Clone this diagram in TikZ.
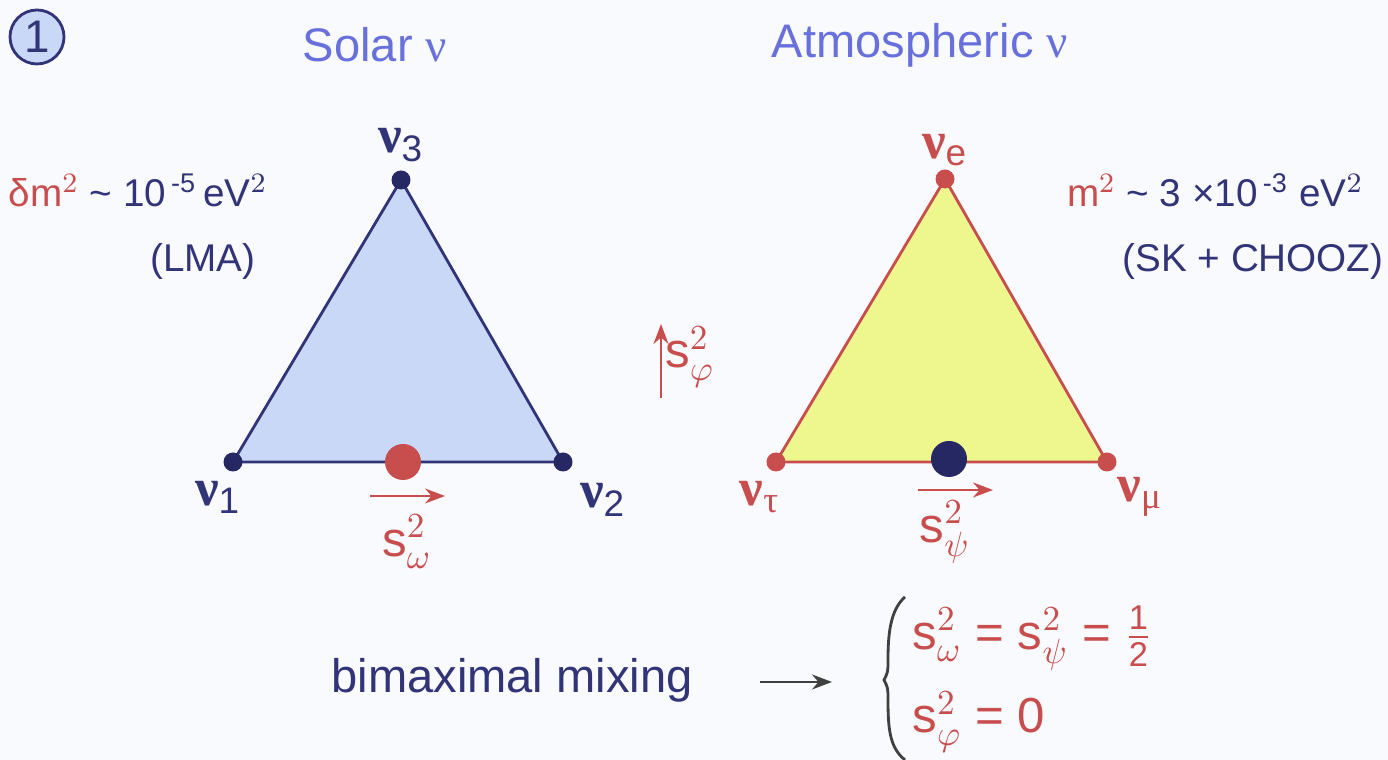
\documentclass[tikz,border=0pt]{standalone}
\usepackage{fontspec}
\usepackage{amsmath}
\setmainfont{Liberation Sans}
\newfontfamily\grk{Liberation Serif}
\usetikzlibrary{arrows.meta}
\tikzset{>=latex}

\newcommand{\nuof}[1]{{\grk\bfseries ν}\textsubscript{#1}}
\newcommand{\sq}[1]{$\mathrm{s}^{2}_{#1}$}

\begin{document}
\begin{tikzpicture}[>=Stealth,
    vtx/.style={circle, inner sep=0pt, minimum size=0.19cm},
    bigdot/.style={circle, inner sep=0pt, minimum size=0.36cm},
    nulabel/.style={font=\fontsize{15}{17}\selectfont},
    title/.style={font=\fontsize{13.4}{16}\selectfont, text=titleColor},
    note/.style={font=\fontsize{11}{13}\selectfont, text=navyColor},
    slabel/.style={font=\fontsize{14}{16}\selectfont, text=redColor},
]

% ---------------------------------------------------------------------------
% Color aliases
% ---------------------------------------------------------------------------
\definecolor{titleColor}{RGB}{104,112,220}
\definecolor{navyColor}{RGB}{50,52,120}
\definecolor{dotColor}{RGB}{38,40,100}
\definecolor{redColor}{RGB}{200,78,78}
\definecolor{solarFill}{RGB}{200,216,246}
\definecolor{atmFill}{RGB}{238,246,142}
\definecolor{paperColor}{RGB}{249,250,254}

% ---------------------------------------------------------------------------
% Canvas
% ---------------------------------------------------------------------------
\fill[paperColor] (0,0) rectangle (13.88,7.60);
\useasboundingbox (0,0) rectangle (13.88,7.60);

% ---------------------------------------------------------------------------
% Header
% ---------------------------------------------------------------------------
\node[circle, draw=navyColor, fill=solarFill, thick, minimum size=0.54cm,
      inner sep=0pt, font=\fontsize{13}{15}\selectfont, text=navyColor]
      (num) at (0.37, 7.23) {1};
\node[title] (solarT) at (3.75, 7.15) {Solar {\grk ν}};
\node[title] (atmT)   at (9.20, 7.15) {Atmospheric {\grk ν}};

% ===========================================================================
%  SOLAR TRIANGLE
% ===========================================================================
\coordinate (s1) at (2.33, 2.98);
\coordinate (s2) at (5.63, 2.98);
\coordinate (s3) at (4.01, 5.80);

\draw[navyColor, thick, fill=solarFill] (s1) -- (s2) -- (s3) -- cycle;

\foreach \p in {s1, s2, s3} {
    \node[vtx, fill=dotColor] (d\p) at (\p) {};
}
\node[bigdot, fill=redColor] (sDot) at (4.03, 2.98) {};

\node[nulabel, text=navyColor] (n3) at (4.01, 6.15) {\nuof{3}};
\node[nulabel, text=navyColor] (n1) at (2.18, 2.63) {\nuof{1}};
\node[nulabel, text=navyColor] (n2) at (6.03, 2.60) {\nuof{2}};

% s_omega arrow
\coordinate (omA) at (3.70, 2.64);
\coordinate (omB) at (4.45, 2.64);
\draw[->, redColor, semithick] (omA) -- (omB);
\node[slabel] (sOm) at (4.07, 2.18) {\sq{\omega}};

% mass splitting notes
\node[note, anchor=west, inner sep=0pt] (solDm) at (0.08, 5.70)
    {\textcolor{redColor}{δm$^{2}$} \textasciitilde\ 10$^{\,\text{-5}}$\,eV$^{2}$};
\node[note] (solLma) at (2.03, 4.98) {(LMA)};

% ===========================================================================
%  ATMOSPHERIC TRIANGLE
% ===========================================================================
\coordinate (aT) at (7.76, 2.98);
\coordinate (aM) at (11.07, 2.98);
\coordinate (aE) at (9.45, 5.81);

\draw[redColor, thick, fill=atmFill] (aT) -- (aM) -- (aE) -- cycle;

\foreach \p in {aT, aM, aE} {
    \node[vtx, fill=redColor] (d\p) at (\p) {};
}
\node[bigdot, fill=dotColor] (aDot) at (9.49, 3.01) {};

\node[nulabel, text=redColor] (ne) at (9.45, 6.10) {\nuof{e}};
\node[nulabel, text=redColor] (nt) at (7.60, 2.63) {\nuof{\grk τ}};
\node[nulabel, text=redColor] (nm) at (11.40, 2.63) {\nuof{\grk μ}};

% s_psi arrow
\coordinate (psA) at (9.18, 2.70);
\coordinate (psB) at (9.93, 2.70);
\draw[->, redColor, semithick] (psA) -- (psB);
\node[slabel] (sPs) at (9.45, 2.28) {\sq{\psi}};

% s_phi arrow (between the triangles)
\coordinate (phA) at (6.61, 3.62);
\coordinate (phB) at (6.61, 4.36);
\draw[->, redColor, semithick] (phA) -- (phB);
\node[slabel] (sPh) at (6.90, 4.03) {\sq{\varphi}};

% mass splitting notes
\node[note, anchor=east, inner sep=0pt] (atmDm) at (13.64, 5.70)
    {\textcolor{redColor}{m$^{2}$} \textasciitilde\ 3 ×10$^{\,\text{-3}}$ eV$^{2}$};
\node[note] (atmSk) at (12.53, 4.98) {(SK + CHOOZ)};

% ===========================================================================
%  BIMAXIMAL MIXING
% ===========================================================================
\node[font=\fontsize{13.4}{16}\selectfont, text=navyColor] (bimax) at (5.12, 0.80)
    {bimaximal mixing};
\coordinate (mxA) at (7.60, 0.78);
\coordinate (mxB) at (8.32, 0.78);
\draw[->, black!75, semithick] (mxA) -- (mxB);

% brace
\draw[black!75, thick]
    (9.05, 1.63)
    .. controls (8.90, 1.50) and (8.88, 1.25) ..
    (8.88, 1.00)
    .. controls (8.88, 0.88) ..
    (8.84, 0.80)
    .. controls (8.88, 0.72) ..
    (8.88, 0.60)
    .. controls (8.88, 0.30) and (8.90, 0.12) ..
    (9.05, 0.00);

\node[slabel, anchor=west] (eqA) at (9.00, 1.22)
    {\sq{\omega} = \sq{\psi} = $\tfrac{\text{1}}{\text{2}}$};
\node[slabel, anchor=west] (eqB) at (9.00, 0.38)
    {\sq{\varphi} = 0};

\end{tikzpicture}
\end{document}
